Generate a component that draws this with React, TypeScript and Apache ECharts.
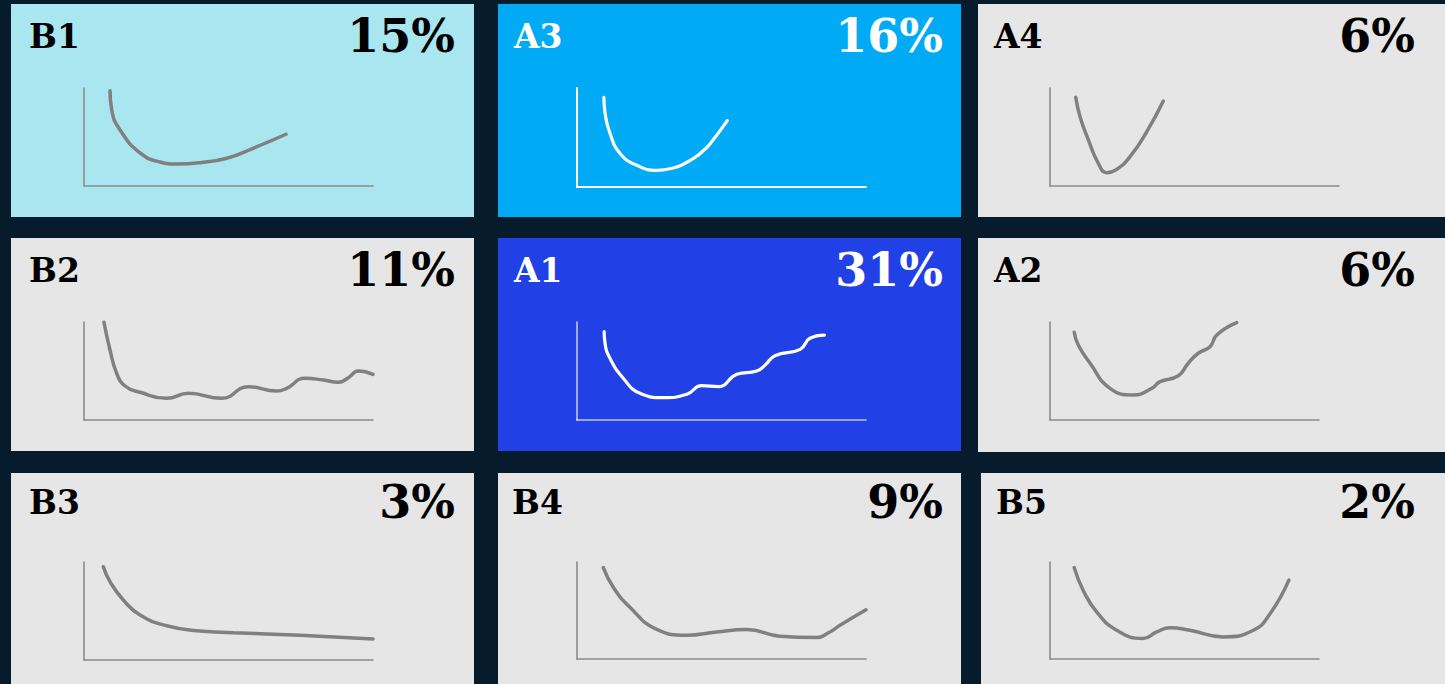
import React, { useEffect, useRef } from "react";
import * as echarts from "echarts";

// ---- data ----
const panelNames = ["B1", "A3", "A4", "B2", "A1", "A2", "B3", "B4", "B5"];
const panelShares = [15, 16, 6, 11, 31, 6, 3, 9, 2];

const b1X = [9.0, 9.6, 12.5, 19.4, 26.3, 32.1, 40.1, 49.4, 58.5, 69.9];
const b1Y = [97.2, 77.6, 57.1, 33.7, 24.5, 22.4, 23.8, 28.3, 38.5, 52.8];

const a3X = [9.3, 9.7, 11.4, 14.9, 20.7, 27.6, 34.5, 38.0, 41.4, 43.8, 46.0, 52.0];
const a3Y = [90.6, 74.7, 54.3, 33.9, 21.9, 16.8, 20.2, 25.0, 31.0, 37.0, 43.5, 67.1];

const a4X = [8.9, 10.4, 13.3, 16.7, 19.6, 23.1, 27.7, 33.5, 39.2];
const a4Y = [90.5, 70.7, 46.9, 23.2, 13.6, 17.0, 29.9, 55.4, 86.7];

const b2X = [6.9, 9.0, 11.3, 14.2, 19.4, 28.6, 36.1, 47.6, 56.9, 66.7, 70.1, 76.5, 82.8, 88.0, 91.5, 94.9, 100];
const b2Y = [99.7, 71.4, 47.7, 34.7, 28.3, 22.1, 27.2, 22.1, 34.0, 29.6, 32.3, 42.6, 40.8, 38.5, 43.2, 50.0, 46.6];

const a1X = [9.4, 9.7, 11.4, 16.0, 21.8, 29.9, 38.0, 43.1, 48.9, 55.3, 62.2, 65.1, 68.5, 77.2, 80.6, 85.6];
const a1Y = [90.1, 78.3, 63.0, 42.6, 27.2, 22.8, 26.2, 35.0, 34.0, 46.6, 50.0, 56.1, 65.6, 72.1, 83.4, 86.7];

const a2X = [9.0, 10.5, 14.9, 22.3, 31.0, 37.8, 40.9, 47.7, 51.4, 55.1, 59.5, 62.0, 69.4];
const a2Y = [89.5, 76.5, 57.9, 32.3, 25.5, 32.3, 39.1, 45.2, 57.9, 68.1, 74.8, 86.7, 99.3];

const b3X = [6.7, 9.0, 13.6, 19.4, 28.6, 40.1, 51.7, 74.7, 100];
const b3Y = [95.2, 79.9, 61.2, 45.9, 35.0, 29.6, 27.9, 25.2, 21.4];

const b4X = [9.1, 12.6, 18.3, 27.6, 38.0, 48.3, 58.7, 70.2, 82.9, 87.0, 91.0, 100];
const b4Y = [94.2, 73.8, 53.4, 30.6, 24.5, 27.9, 30.3, 23.5, 22.1, 27.0, 34.7, 50.7];

const b5X = [9.0, 12.4, 17.4, 24.8, 34.5, 39.7, 44.6, 52.0, 64.4, 75.6, 81.8, 88.8];
const b5Y = [94.2, 70.4, 48.3, 29.6, 21.1, 27.9, 32.3, 29.6, 22.8, 29.6, 46.6, 81.3];

const seriesX = [b1X, a3X, a4X, b2X, a1X, a2X, b3X, b4X, b5X];
const seriesY = [b1Y, a3Y, a4Y, b2Y, a1Y, a2Y, b3Y, b4Y, b5Y];

// ---- layout / style ----
const PAGE_BG = "#061b2c";
const GREY_BG = "#e6e6e6";
const panelBg = ["#a9e6f0", "#00aaf4", GREY_BG, GREY_BG, "#2140e6", GREY_BG, GREY_BG, GREY_BG, GREY_BG];
const lightText = [false, true, false, false, true, false, false, false, false];

const panelLeft = [11, 498, 978, 11, 498, 978, 11, 498, 981];
const panelTop = [4, 4, 4, 238, 238, 238, 473, 473, 473];
const panelW = [463, 463, 470, 463, 463, 470, 463, 463, 470];
const panelH = [213, 213, 213, 213, 213, 214, 220, 220, 220];

const gridLeft = [84, 577, 1050, 84, 577, 1050, 84, 577, 1050];
const gridTop = [88, 88, 88, 322, 322, 322, 562, 562, 562];
const gridW = [289, 289, 289, 289, 289, 269, 289, 289, 269];
const gridH = [98, 99, 98, 98, 98, 98, 98, 97, 97];

const labelLeft = [29, 514, 994, 29, 514, 994, 29, 512, 996];
const pctRight = [455, 943, 1415, 455, 943, 1415, 455, 943, 1415];
const textMid = [36, 36, 36, 270, 270, 270, 502, 502, 502];

const FONT = "Georgia, 'DejaVu Serif', serif";

export default function App() {
  const ref = useRef<HTMLDivElement>(null);

  useEffect(() => {
    if (!ref.current) return;
    const chart = echarts.init(ref.current, undefined, { renderer: "svg" });

    const graphics: any[] = [];
    panelNames.forEach((name, i) => {
      graphics.push({
        type: "rect",
        z: -10,
        shape: { x: panelLeft[i], y: panelTop[i], width: panelW[i], height: panelH[i] },
        style: { fill: panelBg[i] },
        silent: true,
      });
      const col = lightText[i] ? "#ffffff" : "#000000";
      graphics.push({
        type: "text",
        z: 10,
        x: labelLeft[i],
        y: textMid[i],
        style: {
          text: name,
          fontFamily: FONT,
          fontWeight: "bold",
          fontSize: 33,
          fill: col,
          align: "left",
          verticalAlign: "middle",
        },
      });
      graphics.push({
        type: "text",
        z: 10,
        x: pctRight[i],
        y: textMid[i],
        style: {
          text: panelShares[i] + "%",
          fontFamily: FONT,
          fontWeight: "bold",
          fontSize: 46,
          fill: col,
          align: "right",
          verticalAlign: "middle",
        },
      });
    });

    const grids: any[] = [];
    const xAxes: any[] = [];
    const yAxes: any[] = [];
    const series: any[] = [];
    panelNames.forEach((name, i) => {
      const light = lightText[i];
      const axisColor = i === 4 ? "rgba(255,255,255,0.7)" : light ? "#ffffff" : "#8c8c8c";
      const axisWidth = i === 1 ? 2 : 1.6;
      const lineColor = light ? "#ffffff" : "#808080";
      grids.push({ left: gridLeft[i], top: gridTop[i], width: gridW[i], height: gridH[i], containLabel: false });
      const axisCommon = {
        type: "value",
        gridIndex: i,
        min: 0,
        max: 100,
        axisLine: { show: true, onZero: false, lineStyle: { color: axisColor, width: axisWidth } },
        axisTick: { show: false },
        axisLabel: { show: false },
        splitLine: { show: false },
      };
      xAxes.push({ ...axisCommon });
      yAxes.push({ ...axisCommon });
      series.push({
        name,
        type: "line",
        xAxisIndex: i,
        yAxisIndex: i,
        data: seriesX[i].map((x, k) => [x, seriesY[i][k]]),
        smooth: 0.5,
        showSymbol: false,
        symbol: "none",
        clip: false,
        lineStyle: { color: lineColor, width: light ? 3.2 : 3.5, cap: "round" },
      });
    });

    chart.setOption({
      animation: false,
      backgroundColor: PAGE_BG,
      grid: grids,
      xAxis: xAxes,
      yAxis: yAxes,
      series,
      graphic: graphics,
    });

    return () => chart.dispose();
  }, []);

  return (
    <div
      ref={ref}
      style={{ position: "fixed", left: 0, top: 0, width: 1445, height: 684 }}
    />
  );
}
